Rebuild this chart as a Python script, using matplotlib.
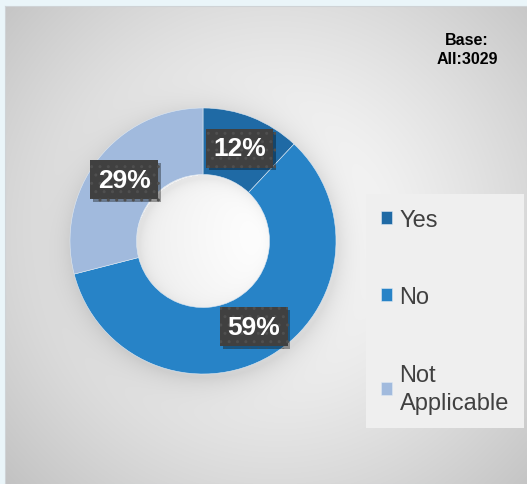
import numpy as np
import matplotlib.pyplot as plt
from matplotlib import patheffects as pe

plt.rcParams['font.family'] = ['Liberation Sans', 'DejaVu Sans']

# data
categories = ['Yes', 'No', 'Not\nApplicable']
shares = [12, 59, 29]
colors = ['#1f6aa5', '#2783c7', '#a1badd']
base_note = 'Base:\nAll:3029'

W, H = 527, 485
fig = plt.figure(figsize=(W / 100, H / 100), dpi=100, facecolor='#eaf5f9')

# grey radial background with a soft halo round the donut
bg = fig.add_axes([5 / W, 0, (W - 5) / W, (H - 7) / H])
yy, xx = np.mgrid[7:H, 5:W] + 0.5
d = np.hypot(xx - 275, yy - 235)
v = 1 - 0.23 * (d / 357) ** 1.3
r = np.hypot(xx - 206, yy - 246)
v -= 0.10 * np.exp(-np.clip(r - 133, 0, None) / 14) * (r > 120)
v -= 0.05 * np.exp(-np.clip(66 - r, 0, None) / 6) * (r < 70)
bg.imshow(np.dstack([np.clip(v, 0, 1)] * 3), aspect='auto', interpolation='bilinear')
bg.set_xticks([])
bg.set_yticks([])
for s in bg.spines.values():
    s.set_color('#cfd3d6')
    s.set_linewidth(0.8)

# donut
ax = fig.add_axes([(203 - 133) / W, (H - 242 - 133) / H, 266 / W, 266 / H])
wedges, _, autotexts = ax.pie(
    shares, colors=colors, startangle=90, counterclock=False, radius=1,
    wedgeprops=dict(width=0.5, edgecolor='#dfe9f3', linewidth=0.4),
    autopct=lambda p: f'{p:.0f}%', pctdistance=0.75,
    textprops=dict(color='white', fontsize=19, fontweight='bold'))
ax.set_xlim(-1, 1)
ax.set_ylim(-1, 1)
ax.axis('off')

for t in autotexts:
    t.set_bbox(dict(boxstyle='square,pad=0.28', facecolor='#404040',
                    edgecolor='#4f4f4f', linewidth=0, hatch='..'))
    t.get_bbox_patch().set_path_effects([
        pe.SimplePatchShadow(offset=(2, -2), shadow_rgbFace='black', alpha=0.35),
        pe.Normal()])

# legend
leg = fig.legend(wedges, categories, loc='upper left',
                 bbox_to_anchor=(366 / W, 1 - 195 / H), borderaxespad=0,
                 fontsize=17, labelcolor='#404040', frameon=True,
                 fancybox=False, framealpha=1, facecolor='#efefef',
                 edgecolor='none', handlelength=0.5, handleheight=0.5,
                 handletextpad=0.3, labelspacing=2.35, borderpad=0.62)
for t in leg.get_texts():
    t.set_linespacing(1.35)

fig.text(467 / W, 1 - 50 / H, base_note, ha='center', va='center',
         fontsize=11.5, fontweight='bold', color='black', linespacing=1.4)

fig.savefig('out.png', dpi=100, facecolor=fig.get_facecolor())
